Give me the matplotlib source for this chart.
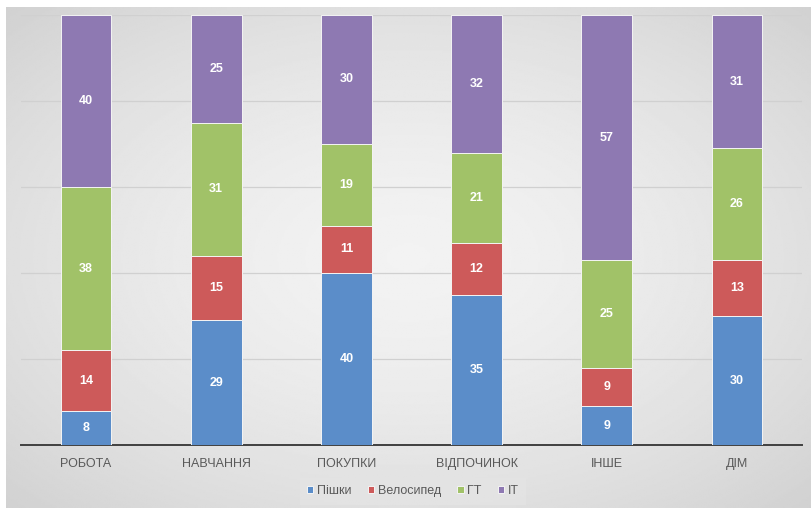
import numpy as np
import matplotlib.pyplot as plt

# ------------------------
# Data
# ------------------------
categories = ["РОБОТА", "НАВЧАННЯ", "ПОКУПКИ", "ВІДПОЧИНОК", "ІНШЕ", "ДІМ"]
series_names = ["Пішки", "Велосипед", "ГТ", "ІТ"]
walk = [8, 29, 40, 35, 9, 30]
bike = [14, 15, 11, 12, 9, 13]
gt = [38, 31, 19, 21, 25, 26]
it = [40, 25, 30, 32, 57, 31]
colors = ["#5B8DC9", "#CD5A5A", "#A1C268", "#8E79B2"]

plt.rcParams['font.family'] = ['Liberation Sans', 'DejaVu Sans']

fig = plt.figure(figsize=(8.11, 5.08), dpi=100)

# gradient background (radial, light centre)
bg = fig.add_axes([6 / 811, 0, 1 - 6 / 811, 501 / 508], zorder=0)
yy, xx = np.mgrid[-1:1:300j, -1:1:500j]
r = np.sqrt(xx ** 2 + yy ** 2) / np.sqrt(2)
bg.imshow(0.95 - 0.13 * r ** 1.6, cmap="gray", vmin=0, vmax=1,
          aspect="auto", extent=[0, 1, 0, 1])
bg.axis("off")

ax = fig.add_axes([21 / 811, 63 / 508, 781 / 811, 430 / 508], zorder=1)
ax.patch.set_alpha(0)

x = np.arange(len(categories))
bottom = np.zeros(len(categories))
for name, vals, c in zip(series_names, [walk, bike, gt, it], colors):
    bars = ax.bar(x, vals, 0.39, bottom=bottom, color=c, label=name,
                  edgecolor="#F4F4F4", linewidth=0.7, zorder=3)
    for b, v in zip(bars, vals):
        ax.text(b.get_x() + b.get_width() / 2, b.get_y() + v / 2, str(v),
                ha="center", va="center", color="white", fontsize=9,
                fontweight="bold", zorder=4)
    bottom += np.array(vals)

ax.set_xlim(-0.5, len(categories) - 0.5)
ax.set_ylim(0, 100)
ax.set_yticks([0, 20, 40, 60, 80, 100])
ax.yaxis.grid(True, color="#D0D0D0", linewidth=0.9, zorder=0)
ax.tick_params(axis="y", left=False, labelleft=False)
ax.tick_params(axis="x", bottom=False, pad=6)
ax.set_xticks(x)
ax.set_xticklabels(categories, fontsize=9, color="#595959")
for s in ["top", "right", "left"]:
    ax.spines[s].set_visible(False)
ax.spines["bottom"].set_color("#404040")
ax.spines["bottom"].set_linewidth(1.4)

leg = fig.legend(loc="center", bbox_to_anchor=(413 / 811, 1 - 491 / 508),
                 ncol=4, frameon=True, fontsize=9, handlelength=0.5,
                 handleheight=0.5, handletextpad=0.3, columnspacing=1.3,
                 borderpad=0.6)
leg.get_frame().set_facecolor("#E4E4E4")
leg.get_frame().set_edgecolor("none")
leg.get_frame().set_boxstyle("square", pad=0)
for t in leg.get_texts():
    t.set_color("#595959")

fig.savefig("out.png", dpi=100)
